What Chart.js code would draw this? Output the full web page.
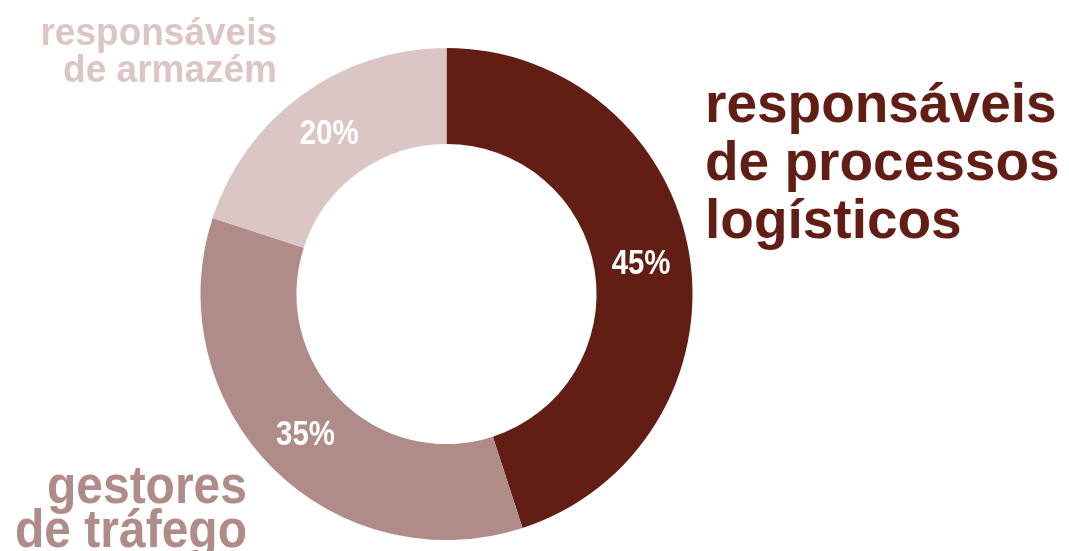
<!DOCTYPE html>
<html lang="pt">
<head>
<meta charset="utf-8">
<title>Perfis profissionais</title>
<script src="https://cdn.jsdelivr.net/npm/chart.js@4/dist/chart.umd.min.js"></script>
<style>
  html, body { margin: 0; padding: 0; background: #fff; }
  #wrap { width: 1069px; height: 551px; position: relative; }
</style>
</head>
<body>
<div id="wrap"><canvas id="rolesChart" width="1069" height="551"></canvas></div>
<script>
const categories = [
    ['responsáveis', 'de processos', 'logísticos'],
    ['gestores', 'de tráfego'],
    ['responsáveis', 'de armazém']
];
const shares = [45, 35, 20];
const colors = ['#621e15', '#b08c88', '#dbc6c5'];

// where each category name sits around the ring (stretch = vertical scale)
const namePlacement = [
    { x: 705, y: 122, align: 'left', size: 55, lineHeight: 58, stretch: 1.0 },
    { x: 247, y: 503, align: 'right', size: 48, lineHeight: 44, stretch: 1.1 },
    { x: 277, y: 45, align: 'right', size: 37, lineHeight: 37, stretch: 1.04 }
];

const labelsPlugin = {
    id: 'ringLabels',
    afterDatasetsDraw(chart) {
        const { ctx } = chart;
        const meta = chart.getDatasetMeta(0);
        ctx.save();

        // percentages inside each slice, squeezed to a condensed look
        ctx.fillStyle = '#ffffff';
        ctx.font = 'bold 35px "Liberation Sans", Arial, sans-serif';
        ctx.textAlign = 'center';
        ctx.textBaseline = 'middle';
        meta.data.forEach((arc, i) => {
            const p = arc.tooltipPosition();
            ctx.save();
            ctx.translate(p.x - 1, p.y + 1);
            ctx.scale(0.84, 1);
            ctx.fillText(shares[i] + '%', 0, 0);
            ctx.restore();
        });

        // category names outside the ring
        ctx.textBaseline = 'alphabetic';
        categories.forEach((lines, i) => {
            const pos = namePlacement[i];
            ctx.fillStyle = colors[i];
            ctx.font = `bold ${pos.size}px "Liberation Sans", Arial, sans-serif`;
            ctx.textAlign = pos.align;
            lines.forEach((line, j) => {
                ctx.save();
                ctx.translate(pos.x, pos.y + j * pos.lineHeight);
                ctx.scale(1, pos.stretch);
                ctx.fillText(line, 0, 0);
                ctx.restore();
            });
        });

        ctx.restore();
    }
};

new Chart(document.getElementById('rolesChart').getContext('2d'), {
    type: 'doughnut',
    data: {
        labels: categories.map(c => c.join(' ')),
        datasets: [{
            data: shares,
            backgroundColor: colors,
            borderWidth: 0
        }]
    },
    options: {
        responsive: false,
        animation: false,
        cutout: '61%',
        layout: {
            padding: { left: 200, right: 376, top: 48, bottom: 11 }
        },
        plugins: {
            legend: { display: false },
            tooltip: { enabled: false }
        }
    },
    plugins: [labelsPlugin]
});
</script>
</body>
</html>
